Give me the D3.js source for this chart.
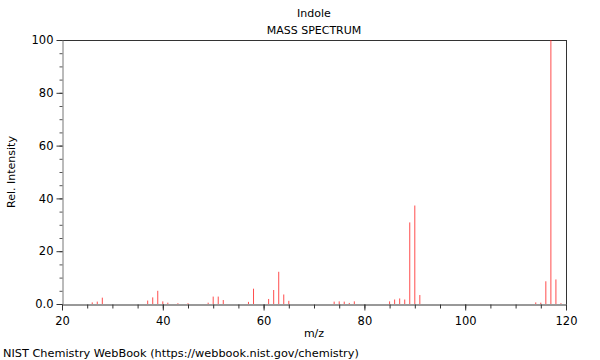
<!DOCTYPE html>
<html>
<head>
<meta charset="utf-8">
<script src="https://cdn.jsdelivr.net/npm/d3@7"></script>
<style>
body { margin: 0; background: #fff; }
svg { font-family: "DejaVu Sans", sans-serif; }
</style>
</head>
<body>
<svg id="chart" width="600" height="360"></svg>
<script>
// peaks
var mz = [26, 27, 28, 37, 38, 39, 40, 41, 43, 45, 49, 50, 51, 52, 57, 58, 61, 62, 63, 64, 65,
          74, 75, 76, 77, 78, 85, 86, 87, 88, 89, 90, 91, 114, 115, 116, 117, 118, 119];
var intensity = [0.6, 0.9, 2.4, 1.3, 2.5, 5.0, 1.0, 0.5, 0.3, 0.3, 0.5, 2.8, 2.8, 1.5, 0.8, 5.8, 1.9, 5.3, 12.2, 3.6, 1.2,
                 0.9, 1.0, 0.9, 0.4, 1.0, 1.0, 1.7, 2.1, 1.7, 30.9, 37.3, 3.4, 0.6, 0.5, 8.6, 100, 9.3, 0.3];
var xTicks = [20, 40, 60, 80, 100, 120];
var yTicks = [0, 20, 40, 60, 80, 100];
var yTickLabels = ["0.0", "20", "40", "60", "80", "100"];

var svg = d3.select("#chart");
var pLeft = 62, pRight = 566, pTop = 40, pBottom = 304;

var x = d3.scaleLinear().domain([20, 120]).range([pLeft, pRight]);
var y = d3.scaleLinear().domain([0, 100]).range([pBottom, pTop]);

// frame (top and right)
svg.append("line").attr("x1", pLeft).attr("x2", pRight).attr("y1", pTop + 0.5).attr("y2", pTop + 0.5)
    .style("stroke", "#333");
svg.append("line").attr("x1", pRight + 0.5).attr("x2", pRight + 0.5).attr("y1", pTop).attr("y2", pBottom)
    .style("stroke", "#333");

// peaks
var data = mz.map(function (m, i) { return {mz: m, v: intensity[i]}; });
svg.append("g").selectAll("line").data(data).enter().append("line")
    .attr("x1", function (d) { return x(d.mz); })
    .attr("x2", function (d) { return x(d.mz); })
    .attr("y1", y(0))
    .attr("y2", function (d) { return y(d.v); })
    .style("stroke", "#ff2020")
    .style("stroke-opacity", 0.8)
    .style("stroke-width", 1);

// x axis
var xAxis = svg.append("g").attr("transform", "translate(0," + (pBottom + 0.5) + ")");
xAxis.call(d3.axisBottom(x).tickValues(d3.range(20, 121, 5)).tickSize(4).tickFormat(""));
xAxis.call(function (g) {
    g.select(".domain").style("stroke", "#333");
    g.selectAll(".tick line").style("stroke", "#333");
});
var xMajor = svg.append("g").attr("transform", "translate(0," + (pBottom + 0.5) + ")");
xMajor.call(d3.axisBottom(x).tickValues(xTicks).tickSize(6).tickPadding(6));
xMajor.call(function (g) {
    g.select(".domain").remove();
    g.selectAll(".tick line").style("stroke", "#333");
    g.selectAll(".tick text").style("font-size", "11.5px").style("fill", "#000")
        .style("font-family", "DejaVu Sans, sans-serif");
});

// y axis
var yAxis = svg.append("g").attr("transform", "translate(" + (pLeft + 0.5) + ",0)");
yAxis.call(d3.axisLeft(y).tickValues(d3.range(0, 101, 5)).tickSize(3).tickFormat(""));
yAxis.call(function (g) {
    g.select(".domain").style("stroke", "#777");
    g.selectAll(".tick line").style("stroke", "#555");
});
var yMajor = svg.append("g").attr("transform", "translate(" + (pLeft + 0.5) + ",0)");
yMajor.call(d3.axisLeft(y).tickValues(yTicks).tickSize(6).tickPadding(3)
    .tickFormat(function (d, i) { return yTickLabels[i]; }));
yMajor.call(function (g) {
    g.select(".domain").remove();
    g.selectAll(".tick line").style("stroke", "#333");
    g.selectAll(".tick text").style("font-size", "11.5px").style("fill", "#000")
        .style("font-family", "DejaVu Sans, sans-serif");
});

// titles
svg.append("text").attr("x", 314).attr("y", 17).attr("text-anchor", "middle")
    .style("font-size", "11px").text("Indole");
svg.append("text").attr("x", 314).attr("y", 34).attr("text-anchor", "middle")
    .style("font-size", "11px").text("MASS SPECTRUM");
svg.append("text").attr("x", 314).attr("y", 337).attr("text-anchor", "middle")
    .style("font-size", "11px").text("m/z");
svg.append("text").attr("transform", "translate(15,172) rotate(-90)").attr("text-anchor", "middle")
    .style("font-size", "11px").text("Rel. Intensity");
svg.append("text").attr("x", 3).attr("y", 357)
    .style("font-size", "11.3px").text("NIST Chemistry WebBook (https://webbook.nist.gov/chemistry)");
</script>
</body>
</html>
